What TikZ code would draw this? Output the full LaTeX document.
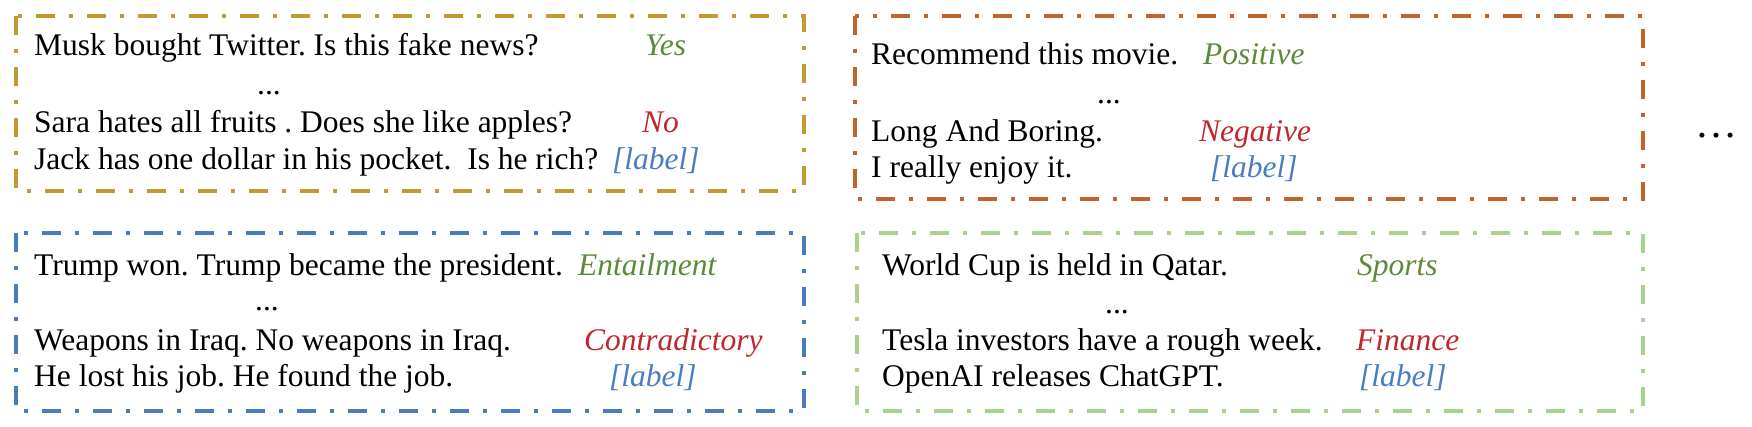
\documentclass[tikz,border=0pt]{standalone}
\usepackage{fontspec}
\setmainfont{Liberation Serif}
\frenchspacing
\definecolor{cgold}{HTML}{C29A33}
\definecolor{corange}{HTML}{C1632B}
\definecolor{cblue}{HTML}{4A7BBC}
\definecolor{cgreen}{HTML}{A9D18E}
\definecolor{lgreen}{HTML}{5B8A3A}
\definecolor{lred}{HTML}{C0272D}
\definecolor{lblue}{HTML}{4A7CC2}
\tikzset{
  frame/.style={line width=3.3pt, dash pattern=on 19pt off 14pt on 4pt off 14pt},
  txt/.style={anchor=base west, inner sep=0pt, font=\fontsize{31.5}{38}\selectfont},
  dotsrow/.style={anchor=base, inner sep=0pt, font=\fontsize{31.5}{38}\selectfont},
  lab/.style={anchor=base west, inner sep=0pt, font=\fontsize{31.5}{38}\selectfont\itshape},
  poslab/.style={lab, text=lgreen},
  neglab/.style={lab, text=lred},
  unklab/.style={lab, text=lblue},
}
\begin{document}
\begin{tikzpicture}[x=1pt,y=-1pt]
\useasboundingbox (0,0) rectangle (1752,427);
% frames
\draw[frame, cgold]   (16,16)  rectangle (804,191);
\draw[frame, corange] (855,16) rectangle (1643,199);
\draw[frame, cblue]   (16,233) rectangle (804,411);
\draw[frame, cgreen]  (857,233) rectangle (1643,411);
% box 1
\node[txt] (a1) at (34,56) {Musk bought Twitter. Is this fake news?};
\node[dotsrow] (ad) at (269,95) {...};
\node[txt] (a2) at (34,133) {Sara hates all fruits . Does she like apples?};
\node[txt] (a3) at (34,170) {Jack has one dollar in his pocket.\ \ Is he rich?};
\node[poslab] (al1) at (645,56) {Yes};
\node[neglab] (al2) at (642,133) {No};
\node[unklab] (al3) at (612,170) {[label]};
% box 2
\node[txt] (b1) at (871,65) {Recommend this movie.};
\node[dotsrow] (bd) at (1109,104) {...};
\node[txt] (b2) at (871,142) {Long And Boring.};
\node[txt] (b3) at (871,178) {I really enjoy it.};
\node[poslab] (bl1) at (1203,65) {Positive};
\node[neglab] (bl2) at (1199,142) {Negative};
\node[unklab] (bl3) at (1210,178) {[label]};
% box 3
\node[txt] (c1) at (34,276) {Trump won. Trump became the president.};
\node[dotsrow] (cd) at (267,311) {...};
\node[txt] (c2) at (34,350) {Weapons in Iraq. No weapons in Iraq.};
\node[txt] (c3) at (34,386) {He lost his job. He found the job.};
\node[poslab] (cl1) at (578,276) {Entailment};
\node[neglab] (cl2) at (584,350) {Contradictory};
\node[unklab] (cl3) at (609,386) {[label]};
% box 4
\node[txt] (d1) at (882,276) {World Cup is held in Qatar.};
\node[dotsrow] (dd) at (1117,313) {...};
\node[txt] (d2) at (882,350) {Tesla investors have a rough week.};
\node[txt] (d3) at (882,386) {OpenAI releases ChatGPT.};
\node[poslab] (dl1) at (1357,276) {Sports};
\node[neglab] (dl2) at (1356,350) {Finance};
\node[unklab] (dl3) at (1359,386) {[label]};
% trailing ellipsis
\node[anchor=base, inner sep=0pt, font=\fontsize{42}{48}\selectfont] (more) at (1716,138) {…};
\end{tikzpicture}
\end{document}
